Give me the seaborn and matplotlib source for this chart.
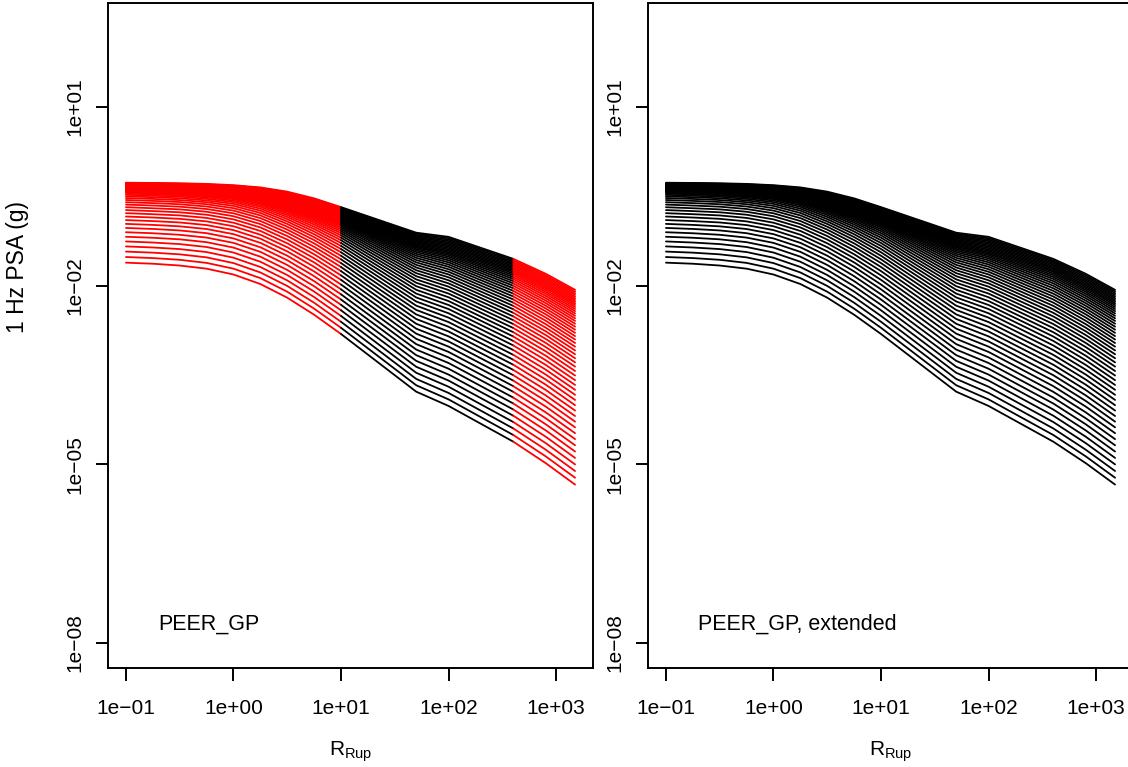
import numpy as np
import pandas as pd
import matplotlib
matplotlib.use("Agg")
import matplotlib.pyplot as plt
from matplotlib.ticker import NullLocator
import seaborn as sns

# ---------------- data ----------------
# rupture distances (km) at which the curve family was read
rrup_km = [0.1, 0.178, 0.316, 0.562, 1.0, 1.78, 3.16, 5.62, 10, 50, 100, 400, 800, 1500]
# log10 PSA (g) of the lowest curve at each distance
lowest_log_psa = [-1.614, -1.632, -1.662, -1.715, -1.813, -1.973, -2.202, -2.488, -2.812,
                  -3.78, -4.02, -4.62, -4.98, -5.34]
# gaps between neighbouring curves (milli-decades), bottom curve to top curve
gaps_r0p1 = [95, 91, 87, 83, 79, 76, 72, 68, 64, 60, 56, 52, 48, 44, 40, 37, 33, 29, 25, 21,
             17, 13, 9, 5.3, 5.3, 5.3, 5.3, 5.3, 5.3, 5.3, 5.3, 5.3, 5.3, 5.3, 5.3, 5.3, 5.3,
             5.3, 5.3, 5.3, 5.3, 5.3, 5.3, 5.3, 5.3, 5.3, 5.3, 5.3, 5.3, 5.3]
gaps_r0p178 = [95, 91, 87, 83, 80, 76, 72, 68, 64, 60, 56, 52, 48, 45, 41, 37, 33, 29, 25, 21,
               17, 13, 10, 5.7, 5.7, 5.7, 5.7, 5.7, 5.7, 5.7, 5.7, 5.7, 5.7, 5.7, 5.7, 5.7, 5.7,
               5.7, 5.7, 5.7, 5.7, 5.7, 5.7, 5.7, 5.7, 5.7, 5.7, 5.7, 5.7, 5.7]
gaps_r0p316 = [96, 92, 88, 84, 80, 76, 73, 69, 65, 61, 57, 53, 49, 45, 41, 37, 33, 30, 26, 22,
               18, 14, 10, 6.0, 6.0, 6.0, 6.0, 6.0, 6.0, 6.0, 6.0, 6.0, 6.0, 6.0, 6.0, 6.0, 6.0,
               6.0, 6.0, 6.0, 6.0, 6.0, 6.0, 6.0, 6.0, 6.0, 6.0, 6.0, 6.0, 6.0]
gaps_r0p562 = [97, 93, 89, 85, 81, 77, 74, 70, 66, 62, 58, 54, 50, 46, 42, 38, 34, 30, 26, 23,
               19, 15, 11, 6.8, 6.8, 6.8, 6.8, 6.8, 6.8, 6.8, 6.8, 6.8, 6.8, 6.8, 6.8, 6.8, 6.8,
               6.8, 6.8, 6.8, 6.8, 6.8, 6.8, 6.8, 6.8, 6.8, 6.8, 6.8, 6.8, 6.8]
gaps_r1 = [98, 94, 90, 87, 83, 79, 75, 72, 68, 64, 60, 56, 53, 49, 45, 41, 38, 34, 30, 26,
           23, 19, 15, 11, 7.3, 7.3, 7.3, 7.3, 7.3, 7.3, 7.3, 7.3, 7.3, 7.3, 7.3, 7.3, 7.3,
           7.3, 7.3, 7.3, 7.3, 7.3, 7.3, 7.3, 7.3, 7.3, 7.3, 7.3, 7.3, 7.3]
gaps_r1p78 = [99, 95, 92, 88, 85, 81, 77, 74, 70, 67, 63, 59, 56, 52, 49, 45, 41, 38, 34, 31,
              27, 23, 20, 16, 13, 9.1, 9.1, 9.1, 9.1, 9.1, 9.1, 9.1, 9.1, 9.1, 9.1, 9.1, 9.1,
              9.1, 9.1, 9.1, 9.1, 9.1, 9.1, 9.1, 9.1, 9.1, 9.1, 9.1, 9.1, 9.1]
gaps_r3p16 = [100, 97, 93, 90, 86, 83, 80, 76, 73, 69, 66, 63, 59, 56, 52, 49, 46, 42, 39, 36,
              32, 29, 25, 22, 19, 15, 11.8, 11.8, 11.8, 11.8, 11.8, 11.8, 11.8, 11.8, 11.8,
              11.8, 11.8, 11.8, 11.8, 11.8, 11.8, 11.8, 11.8, 11.8, 11.8, 11.8, 11.8, 11.8,
              11.8, 11.8]
gaps_r5p62 = [102, 99, 96, 92, 89, 86, 83, 80, 77, 74, 70, 67, 64, 61, 58, 55, 51, 48, 45, 42,
              39, 36, 32, 29, 26, 23, 20, 17, 13.3, 13.3, 13.3, 13.3, 13.3, 13.3, 13.3, 13.3,
              13.3, 13.3, 13.3, 13.3, 13.3, 13.3, 13.3, 13.3, 13.3, 13.3, 13.3, 13.3, 13.3, 13.3]
gaps_r10 = [104, 101, 98, 95, 92, 89, 87, 84, 81, 78, 75, 72, 69, 66, 63, 60, 58, 55, 52, 49,
            46, 43, 40, 37, 34, 31, 29, 26, 23, 20, 17, 13.5, 13.5, 13.5, 13.5, 13.5, 13.5,
            13.5, 13.5, 13.5, 13.5, 13.5, 13.5, 13.5, 13.5, 13.5, 13.5, 13.5, 13.5, 13.5]
gaps_r50 = [108, 106, 103, 101, 99, 96, 94, 91, 89, 87, 84, 82, 80, 77, 75, 72, 70, 68, 65, 63,
            61, 58, 56, 54, 51, 49, 46, 44, 42, 39, 37, 35, 32, 30, 27, 25, 23, 20, 19.2, 19.2,
            19.2, 19.2, 19.2, 19.2, 19.2, 19.2, 19.2, 19.2, 19.2, 19.2]
gaps_r100 = [110, 108, 105, 103, 101, 98, 96, 94, 92, 89, 87, 85, 82, 80, 78, 75, 73, 71, 68, 66,
             64, 62, 59, 57, 55, 52, 50, 48, 45, 43, 41, 38, 36, 34, 32, 29, 27, 25, 22, 23.6,
             23.6, 23.6, 23.6, 23.6, 23.6, 23.6, 23.6, 23.6, 23.6, 23.6]
gaps_r400 = [112, 110, 108, 106, 104, 101, 99, 97, 95, 93, 91, 89, 87, 84, 82, 80, 78, 76, 74, 72,
             70, 67, 65, 63, 61, 59, 57, 55, 53, 50, 48, 46, 44, 42, 40, 38, 36, 33, 31, 29,
             27, 24.2, 24.2, 24.2, 24.2, 24.2, 24.2, 24.2, 24.2, 24.2]
gaps_r800 = [114, 112, 110, 108, 106, 103, 101, 99, 97, 95, 93, 91, 89, 86, 84, 82, 80, 78, 76, 74,
             72, 69, 67, 65, 63, 61, 59, 57, 55, 53, 50, 48, 46, 44, 42, 40, 38, 36, 33, 31,
             29, 27.1, 27.1, 27.1, 27.1, 27.1, 27.1, 27.1, 27.1, 27.1]
gaps_r1500 = [115, 113, 111, 109, 107, 105, 103, 100, 98, 96, 94, 92, 90, 88, 86, 84, 82, 80, 78, 76,
              74, 71, 69, 67, 65, 63, 61, 59, 57, 55, 53, 51, 49, 47, 44, 42, 40, 38, 36, 34,
              32, 28.4, 28.4, 28.4, 28.4, 28.4, 28.4, 28.4, 28.4, 28.4]

gap_table = [gaps_r0p1, gaps_r0p178, gaps_r0p316, gaps_r0p562, gaps_r1, gaps_r1p78, gaps_r3p16,
             gaps_r5p62, gaps_r10, gaps_r50, gaps_r100, gaps_r400, gaps_r800, gaps_r1500]
assert all(len(g) == 50 for g in gap_table), [len(g) for g in gap_table]

x_ticks = [1e-1, 1e0, 1e1, 1e2, 1e3]
x_tick_labels = ["1e\u221201", "1e+00", "1e+01", "1e+02", "1e+03"]
y_ticks = [1e1, 1e-2, 1e-5, 1e-8]
y_tick_labels = ["1e+01", "1e\u221202", "1e\u221205", "1e\u221208"]

# ---------------- build long table ----------------
rows = []
for r, low, gaps in zip(rrup_km, lowest_log_psa, gap_table):
    logs = low + np.concatenate([[0.0], np.cumsum(gaps)]) / 1000.0
    segs = []
    if r <= 10:
        segs.append("near")
    if 10 <= r <= 400:
        segs.append("mid")
    if r >= 400:
        segs.append("far")
    for c, lv in enumerate(logs):
        for s in segs:
            rows.append({"curve": c, "segment": s, "rrup_km": r, "psa_g": 10 ** lv})
df = pd.DataFrame(rows)
df_full = df.drop_duplicates(subset=["curve", "rrup_km"]).copy()

# ---------------- style ----------------
sns.set_theme(style="ticks")
plt.rcParams["font.family"] = ["Liberation Sans", "DejaVu Sans"]
plt.rcParams["mathtext.fontset"] = "custom"
plt.rcParams["mathtext.rm"] = "Liberation Sans"
plt.rcParams["axes.linewidth"] = 1.4

W, H = 1128, 767
fig = plt.figure(figsize=(W / 100, H / 100), dpi=100)
fig.patch.set_facecolor("white")
axL = fig.add_axes([108 / W, (H - 668) / H, 485 / W, 665 / H])
axR = fig.add_axes([648 / W, (H - 668) / H, 485 / W, 665 / H])

FS = 15
LW = 1.3
for ax in (axL, axR):
    ax.set_xscale("log")
    ax.set_yscale("log")
    ax.set_facecolor("white")

sns.lineplot(data=df, x="rrup_km", y="psa_g", hue="segment", units="curve",
             estimator=None, palette={"near": "#ff0000", "mid": "black", "far": "#ff0000"},
             legend=False, linewidth=LW, ax=axL)
sns.lineplot(data=df_full, x="rrup_km", y="psa_g", units="curve", estimator=None,
             color="black", legend=False, linewidth=LW, ax=axR)

for ax, note in ((axL, "PEER_GP"), (axR, "PEER_GP, extended")):
    ax.set_xlim(10 ** -1.167, 10 ** 3.343)
    ax.set_ylim(10 ** -8.42, 10 ** 2.746)
    ax.xaxis.set_minor_locator(NullLocator())
    ax.yaxis.set_minor_locator(NullLocator())
    ax.set_xticks(x_ticks)
    ax.set_xticklabels(x_tick_labels)
    ax.set_yticks(y_ticks)
    ax.set_yticklabels(y_tick_labels, rotation=90, va="center")
    ax.tick_params(axis="both", direction="out", length=9, width=1.4, colors="black",
                   labelsize=FS, labelcolor="black")
    ax.tick_params(axis="x", pad=13)
    ax.tick_params(axis="y", pad=8)
    for sp in ax.spines.values():
        sp.set_visible(True)
        sp.set_color("black")
        sp.set_linewidth(1.4)
    ax.set_xlabel("")
    ax.set_ylabel("")
    ax.text(0.103, 0.066, note, transform=ax.transAxes, ha="left", va="center",
            fontsize=15.5, color="black")

fig.text(18 / W, 1 - 267 / H, "1 Hz PSA (g)", rotation=90, ha="center", va="center",
         fontsize=16.5, color="black")
fig.text(350.5 / W, 1 - 752 / H, r"$\mathregular{R_{Rup}}$", ha="center", va="center",
         fontsize=FS, color="black")
fig.text(890.5 / W, 1 - 752 / H, r"$\mathregular{R_{Rup}}$", ha="center", va="center",
         fontsize=FS, color="black")

fig.savefig("out.png", dpi=100, facecolor="white")
